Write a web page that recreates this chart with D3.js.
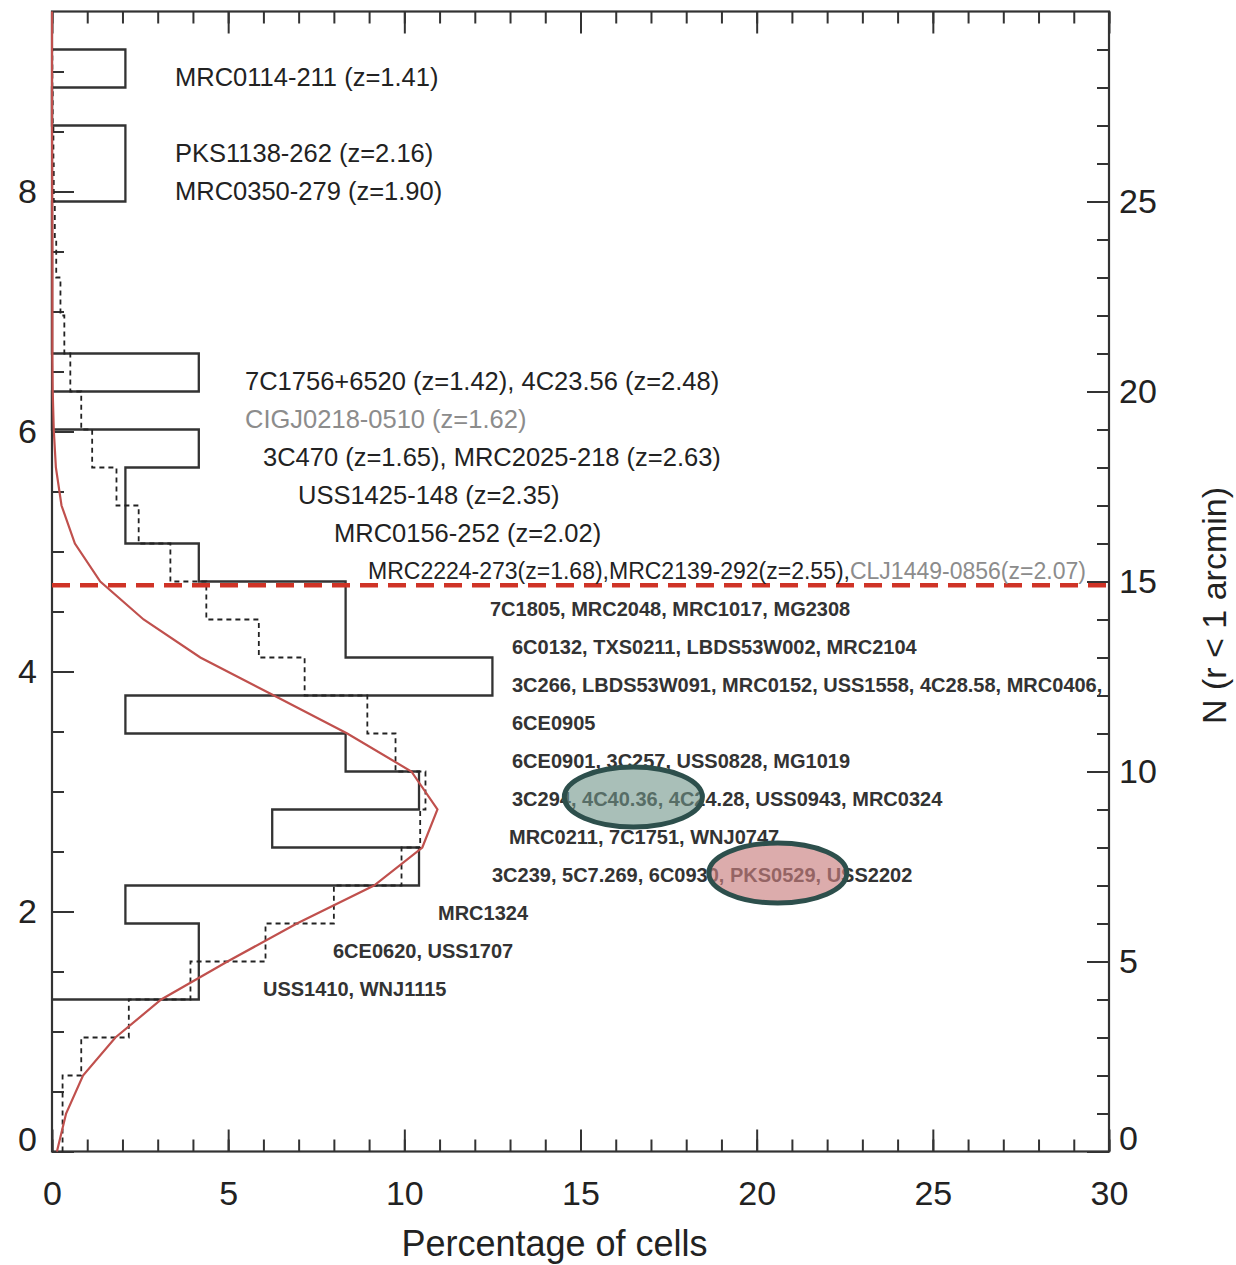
<!DOCTYPE html>
<html>
<head>
<meta charset="utf-8">
<script src="https://cdn.jsdelivr.net/npm/d3@7"></script>
<style>
  body { margin: 0; background: #fff; }
  svg { display: block; }
  text { font-family: "Liberation Sans", Arial, Helvetica, sans-serif; }
</style>
</head>
<body>
<svg id="chart" width="1236" height="1265"></svg>
<script>
// ---------------------------------------------------------------
// Data
// ---------------------------------------------------------------
// Radio galaxies per bin of N (companions within 1 arcmin); bins are [N, N+1)
const hzrgBins   = [4, 5, 6, 7, 8, 9, 10, 11, 12, 13, 14, 15, 16, 17, 18, 19, 20, 21, 22, 23, 24, 25, 26, 27, 28];
const hzrgCounts = [2, 2, 1, 5, 3, 5, 4, 1, 6, 4, 4, 2, 1, 1, 2, 0, 2, 0, 0, 0, 0, 1, 1, 0, 1];
const hzrgTotal  = 48;

// Random cells: percentage of cells per bin of N (dashed histogram)
const cellBins = d3.range(0, 29);
const cellPct  = [0.30, 0.30, 0.83, 2.18, 3.93, 6.06, 8.00, 9.92, 10.45, 10.60,
                  9.75, 8.95, 7.17, 5.87, 4.38, 3.36, 2.46, 1.83, 1.14, 0.83,
                  0.52, 0.35, 0.24, 0.12, 0.08, 0.05, 0.04, 0.02, 0.01];

// Fitted field distribution, percentage of cells at integer N (red curve)
const fitN   = d3.range(0, 31);
const fitPct = [0.14, 0.40, 0.88, 1.80, 3.10, 4.98, 6.95, 9.14, 10.51, 10.94,
                10.20, 8.38, 6.30, 4.21, 2.60, 1.37, 0.65, 0.27, 0.11, 0.05,
                0.02, 0.01, 0.01, 0.01, 0.01, 0.005, 0.005, 0, 0, 0, 0];

// Overdensity threshold in N
const thresholdN = 14.9;

// Source names attached to each N bin; "gray" parts are not in the histogram
const labelBins = [28, 26, 25, 20, 19, 18, 17, 16, 15, 14, 13, 12, 11, 10, 9, 8, 7, 6, 5, 4];
const labelParts = [
  [["MRC0114-211 (z=1.41)", false]],
  [["PKS1138-262 (z=2.16)", false]],
  [["MRC0350-279 (z=1.90)", false]],
  [["7C1756+6520 (z=1.42), 4C23.56 (z=2.48)", false]],
  [["CIGJ0218-0510 (z=1.62)", true]],
  [["3C470 (z=1.65), MRC2025-218 (z=2.63)", false]],
  [["USS1425-148 (z=2.35)", false]],
  [["MRC0156-252 (z=2.02)", false]],
  [["MRC2224-273(z=1.68),MRC2139-292(z=2.55),", false], ["CLJ1449-0856(z=2.07)", true]],
  [["7C1805, MRC2048, MRC1017, MG2308", false]],
  [["6C0132, TXS0211, LBDS53W002, MRC2104", false]],
  [["3C266, LBDS53W091, MRC0152, USS1558, 4C28.58, MRC0406,", false]],
  [["6CE0905", false]],
  [["6CE0901, 3C257, USS0828, MG1019", false]],
  [["3C294, 4C40.36, 4C24.28, USS0943, MRC0324", false]],
  [["MRC0211, 7C1751, WNJ0747", false]],
  [["3C239, 5C7.269, 6C0930, PKS0529, USS2202", false]],
  [["MRC1324", false]],
  [["6CE0620, USS1707", false]],
  [["USS1410, WNJ1115", false]]
];

// Axis ticks
const xMajor = [0, 5, 10, 15, 20, 25, 30];
const leftMajor = [0, 2, 4, 6, 8];
const rightMajor = [0, 5, 10, 15, 20, 25];

// ---------------------------------------------------------------
// Layout
// ---------------------------------------------------------------
const L = 52, R = 1109, T = 11.5, B = 1151.5;
const labelX    = [175, 175, 175, 245, 245, 263, 298, 334, 368, 490, 512, 512, 512, 512, 512, 509, 492, 438, 333, 263];
const labelSize = [25.5, 25.5, 25.5, 25.5, 25.5, 25.5, 25.5, 25.5, 23,
                   20, 20, 20, 20, 20, 20, 20, 20, 20, 20, 20];

const svg = d3.select("#chart");

const x = d3.scaleLinear().domain([0, 30]).range([L, R]);
const yN = d3.scaleLinear().domain([0, 30]).range([B, T]);       // right axis, N
const yL = d3.scaleLinear().domain([0, 9.5]).range([B, T]);      // left axis

const axisColor = "#333";

// Frame
svg.append("rect")
  .attr("x", L).attr("y", T).attr("width", R - L).attr("height", B - T)
  .attr("fill", "none").attr("stroke", axisColor).attr("stroke-width", 2.2);

function styleAxis(g) {
  g.select(".domain").remove();
  g.selectAll(".tick line").attr("stroke", axisColor).attr("stroke-width", 2);
  g.selectAll(".tick text").attr("fill", "#222").attr("font-size", 34)
    .attr("font-family", "'Liberation Sans', Arial, sans-serif");
}

// Bottom axis (ticks point inward)
svg.append("g").attr("transform", `translate(0,${B})`)
  .call(d3.axisBottom(x).tickValues(d3.range(0, 31)).tickSize(-12).tickFormat(""))
  .call(styleAxis);
svg.append("g").attr("transform", `translate(0,${B})`)
  .call(d3.axisBottom(x).tickValues(xMajor).tickSize(-22).tickPadding(29).tickFormat(d3.format("d")))
  .call(styleAxis);

// Top axis (mirror, no labels)
svg.append("g").attr("transform", `translate(0,${T})`)
  .call(d3.axisTop(x).tickValues(d3.range(0, 31)).tickSize(-12).tickFormat(""))
  .call(styleAxis);
svg.append("g").attr("transform", `translate(0,${T})`)
  .call(d3.axisTop(x).tickValues(xMajor).tickSize(-22).tickFormat(""))
  .call(styleAxis);

// Left axis
svg.append("g").attr("transform", `translate(${L},0)`)
  .call(d3.axisLeft(yL).tickValues(d3.range(0, 9.5, 0.5)).tickSize(-12).tickFormat(""))
  .call(styleAxis);
const gLeft = svg.append("g").attr("transform", `translate(${L},0)`)
  .call(d3.axisLeft(yL).tickValues(leftMajor).tickSize(-22).tickPadding(15).tickFormat(d3.format("d")))
  .call(styleAxis);
gLeft.selectAll(".tick text").filter(d => d === 0).attr("y", -12);

// Right axis
svg.append("g").attr("transform", `translate(${R},0)`)
  .call(d3.axisRight(yN).tickValues(d3.range(0, 30)).tickSize(-12).tickFormat(""))
  .call(styleAxis);
const gRight = svg.append("g").attr("transform", `translate(${R},0)`)
  .call(d3.axisRight(yN).tickValues(rightMajor).tickSize(-22).tickPadding(10).tickFormat(d3.format("d")))
  .call(styleAxis);
gRight.selectAll(".tick text").filter(d => d === 0).attr("y", -13);

// Axis titles
svg.append("text")
  .attr("x", (L + R) / 2 - 26).attr("y", 1256)
  .attr("text-anchor", "middle").attr("font-size", 36).attr("fill", "#222")
  .text("Percentage of cells");
svg.append("text")
  .attr("transform", `translate(1226,${(T + B) / 2 + 24}) rotate(-90)`)
  .attr("text-anchor", "middle").attr("font-size", 34).attr("fill", "#222")
  .text("N (r < 1 arcmin)");

// ---------------------------------------------------------------
// Histograms
// ---------------------------------------------------------------
const stepLine = d3.line().x(d => x(d[0])).y(d => yN(d[1]));

// Radio galaxies, percentage of the sample per bin
const hzrgPts = [[0, hzrgBins[0]]];
hzrgBins.forEach((n, i) => {
  const v = hzrgCounts[i] / hzrgTotal * 100;
  hzrgPts.push([v, n], [v, n + 1]);
});
hzrgPts.push([0, hzrgBins[hzrgBins.length - 1] + 1]);
svg.append("path")
  .attr("d", stepLine(hzrgPts))
  .attr("fill", "none").attr("stroke", "#333").attr("stroke-width", 2.3)
  .attr("stroke-linejoin", "miter");

// Random cells
const cellPts = [];
cellBins.forEach((n, i) => cellPts.push([cellPct[i], n], [cellPct[i], n + 1]));
cellPts.push([0, cellBins[cellBins.length - 1] + 1]);
svg.append("path")
  .attr("d", stepLine(cellPts))
  .attr("fill", "none").attr("stroke", "#222").attr("stroke-width", 1.8)
  .attr("stroke-dasharray", "5,4");

// Fitted distribution
svg.append("path")
  .attr("d", d3.line().x((d, i) => x(fitPct[i])).y(d => yN(d))(fitN))
  .attr("fill", "none").attr("stroke", "#c0504d").attr("stroke-width", 2.2);

// Threshold
svg.append("line")
  .attr("x1", x(0)).attr("x2", x(30))
  .attr("y1", yN(thresholdN)).attr("y2", yN(thresholdN))
  .attr("stroke", "#cf3326").attr("stroke-width", 4.5)
  .attr("stroke-dasharray", "18,10");

// ---------------------------------------------------------------
// Source labels
// ---------------------------------------------------------------
labelBins.forEach((n, i) => {
  const fs = labelSize[i];
  const small = fs <= 20;
  const t = svg.append("text")
    .attr("x", labelX[i])
    .attr("y", yN(n + 0.28) + 0.36 * fs)
    .attr("font-size", fs)
    .attr("font-weight", small ? "bold" : "normal");
  labelParts[i].forEach(([s, gray]) => {
    t.append("tspan").attr("fill", gray ? "#8c8c8c" : (small ? "#333" : "#222")).text(s);
  });
});

// Highlighted sources
const highlights = [
  { cx: 16.5, cy: 9.33, fill: "#6f9488", op: 0.6 },
  { cx: 20.6, cy: 7.33, fill: "#c98080", op: 0.65 }
];
svg.selectAll("ellipse.hl").data(highlights).join("ellipse")
  .attr("class", "hl")
  .attr("cx", d => x(d.cx)).attr("cy", d => yN(d.cy))
  .attr("rx", 69).attr("ry", 30)
  .attr("fill", d => d.fill).attr("fill-opacity", d => d.op)
  .attr("stroke", "#2d4f4c").attr("stroke-width", 5);
</script>
</body>
</html>
